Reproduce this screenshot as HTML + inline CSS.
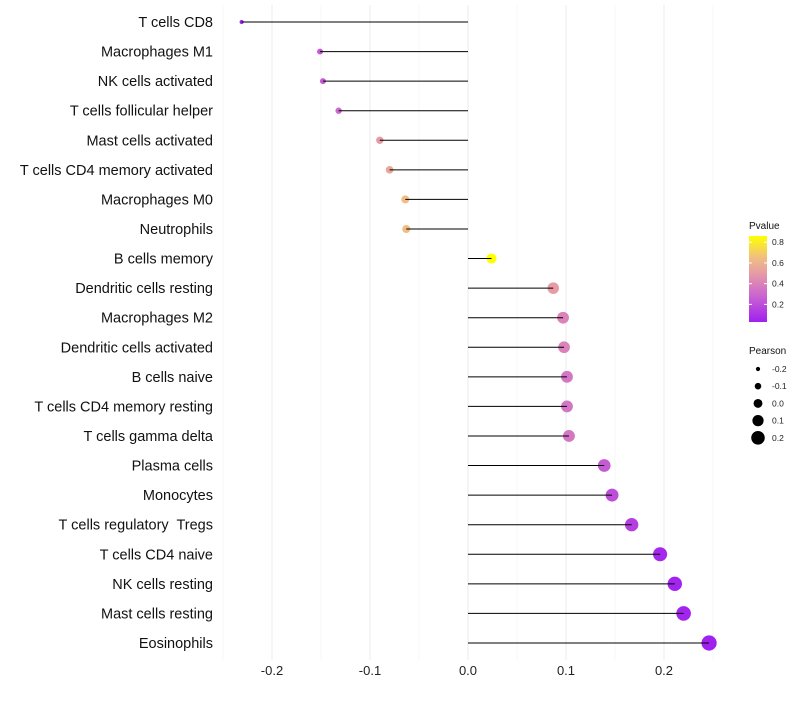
<!DOCTYPE html>
<html><head><meta charset="utf-8"><style>
body{margin:0;background:#fff;font-family:"Liberation Sans",sans-serif;}
</style></head><body>
<svg id="c" width="800" height="700" xmlns="http://www.w3.org/2000/svg"></svg>
<script>
const categories=["T cells CD8","Macrophages M1","NK cells activated","T cells follicular helper","Mast cells activated","T cells CD4 memory activated","Macrophages M0","Neutrophils","B cells memory","Dendritic cells resting","Macrophages M2","Dendritic cells activated","B cells naive","T cells CD4 memory resting","T cells gamma delta","Plasma cells","Monocytes","T cells regulatory\u00a0 Tregs","T cells CD4 naive","NK cells resting","Mast cells resting","Eosinophils"];
const pearson=[-0.231,-0.151,-0.148,-0.132,-0.090,-0.080,-0.064,-0.063,0.024,0.087,0.097,0.098,0.101,0.101,0.103,0.139,0.147,0.167,0.196,0.211,0.220,0.246];
const pvalue=[0.05,0.25,0.25,0.3,0.5,0.55,0.65,0.65,0.86,0.5,0.4,0.4,0.35,0.35,0.35,0.25,0.2,0.15,0.06,0.05,0.05,0.03];
const xTicks=[-0.2,-0.1,0.0,0.1,0.2];
const xTickLabels=["-0.2","-0.1","0.0","0.1","0.2"];
const colorTicks=[0.2,0.4,0.6,0.8];
const sizeTicks=[-0.2,-0.1,0.0,0.1,0.2];

const svg=document.getElementById('c');const NS="http://www.w3.org/2000/svg";
function mk(t,a,p){const e=document.createElementNS(NS,t);for(const k in a)e.setAttribute(k,a[k]);(p||svg).appendChild(e);return e;}
const x=v=>468+v*980;
const y=i=>22+i*29.57;
const r=v=>2+(v+0.235)/0.48*5.6;
const stops=[[0.03,[160,32,240]],[0.3,[205,105,205]],[0.5,[230,155,165]],[0.65,[240,190,130]],[0.86,[255,255,0]]];
function col(p){if(p<=stops[0][0])return 'rgb('+stops[0][1]+')';for(let i=1;i<stops.length;i++){if(p<=stops[i][0]){const t=(p-stops[i-1][0])/(stops[i][0]-stops[i-1][0]);const a=stops[i-1][1],b=stops[i][1];return 'rgb('+a.map((c,j)=>Math.round(c+(b[j]-c)*t))+')';}}return 'rgb('+stops[stops.length-1][1]+')';}
for(let v=-0.25;v<=0.2501;v+=0.05){const major=Math.abs(Math.round(v*20))%2===0;const g=mk('line',{x1:x(v),x2:x(v),y1:5,y2:660,stroke:major?'#ebebeb':'#f2f2f2','stroke-width':major?1:0.6});
}
xTicks.forEach((v,i)=>{const t=mk('text',{x:x(v),y:675,'text-anchor':'middle','font-size':13,fill:'#222'});t.textContent=xTickLabels[i];
});
categories.forEach((c,i)=>{
const t=mk('text',{x:213,y:y(i)+5,'text-anchor':'end','font-size':14.5,fill:'#111'});t.textContent=c;

const d=mk('circle',{cx:x(pearson[i]),cy:y(i),r:r(pearson[i]),fill:col(pvalue[i])});

const l=mk('line',{x1:x(0),x2:x(pearson[i]),y1:y(i),y2:y(i),stroke:'#000','stroke-width':1});

});
let tt=mk('text',{x:749,y:229,'font-size':10,fill:'#111'});tt.textContent='Pvalue';

const defs=mk('defs',{});const gr=mk('linearGradient',{id:'g',x1:0,y1:1,x2:0,y2:0},defs);
stops.forEach(s=>mk('stop',{offset:((s[0]-0.03)/0.83),'stop-color':'rgb('+s[1]+')'},gr));
const cb=mk('rect',{x:749,y:236,width:18,height:86,fill:'url(#g)'});

const cy=p=>322-(p-0.03)/0.83*86;
colorTicks.forEach(p=>{mk('line',{x1:749,x2:752,y1:cy(p),y2:cy(p),stroke:'#fff'});mk('line',{x1:764,x2:767,y1:cy(p),y2:cy(p),stroke:'#fff'});
const t=mk('text',{x:772,y:cy(p)+3,'font-size':8.5,fill:'#222'});t.textContent=p.toFixed(1);
});
tt=mk('text',{x:749,y:354,'font-size':10,fill:'#111'});tt.textContent='Pearson';

sizeTicks.forEach((v,i)=>{const yy=369+i*17.2;const c=mk('circle',{cx:758,cy:yy,r:r(v)-0.3,fill:'#000'});

const t=mk('text',{x:772,y:yy+3,'font-size':8.5,fill:'#222'});t.textContent=v.toFixed(1);
});
</script>
</body></html>
